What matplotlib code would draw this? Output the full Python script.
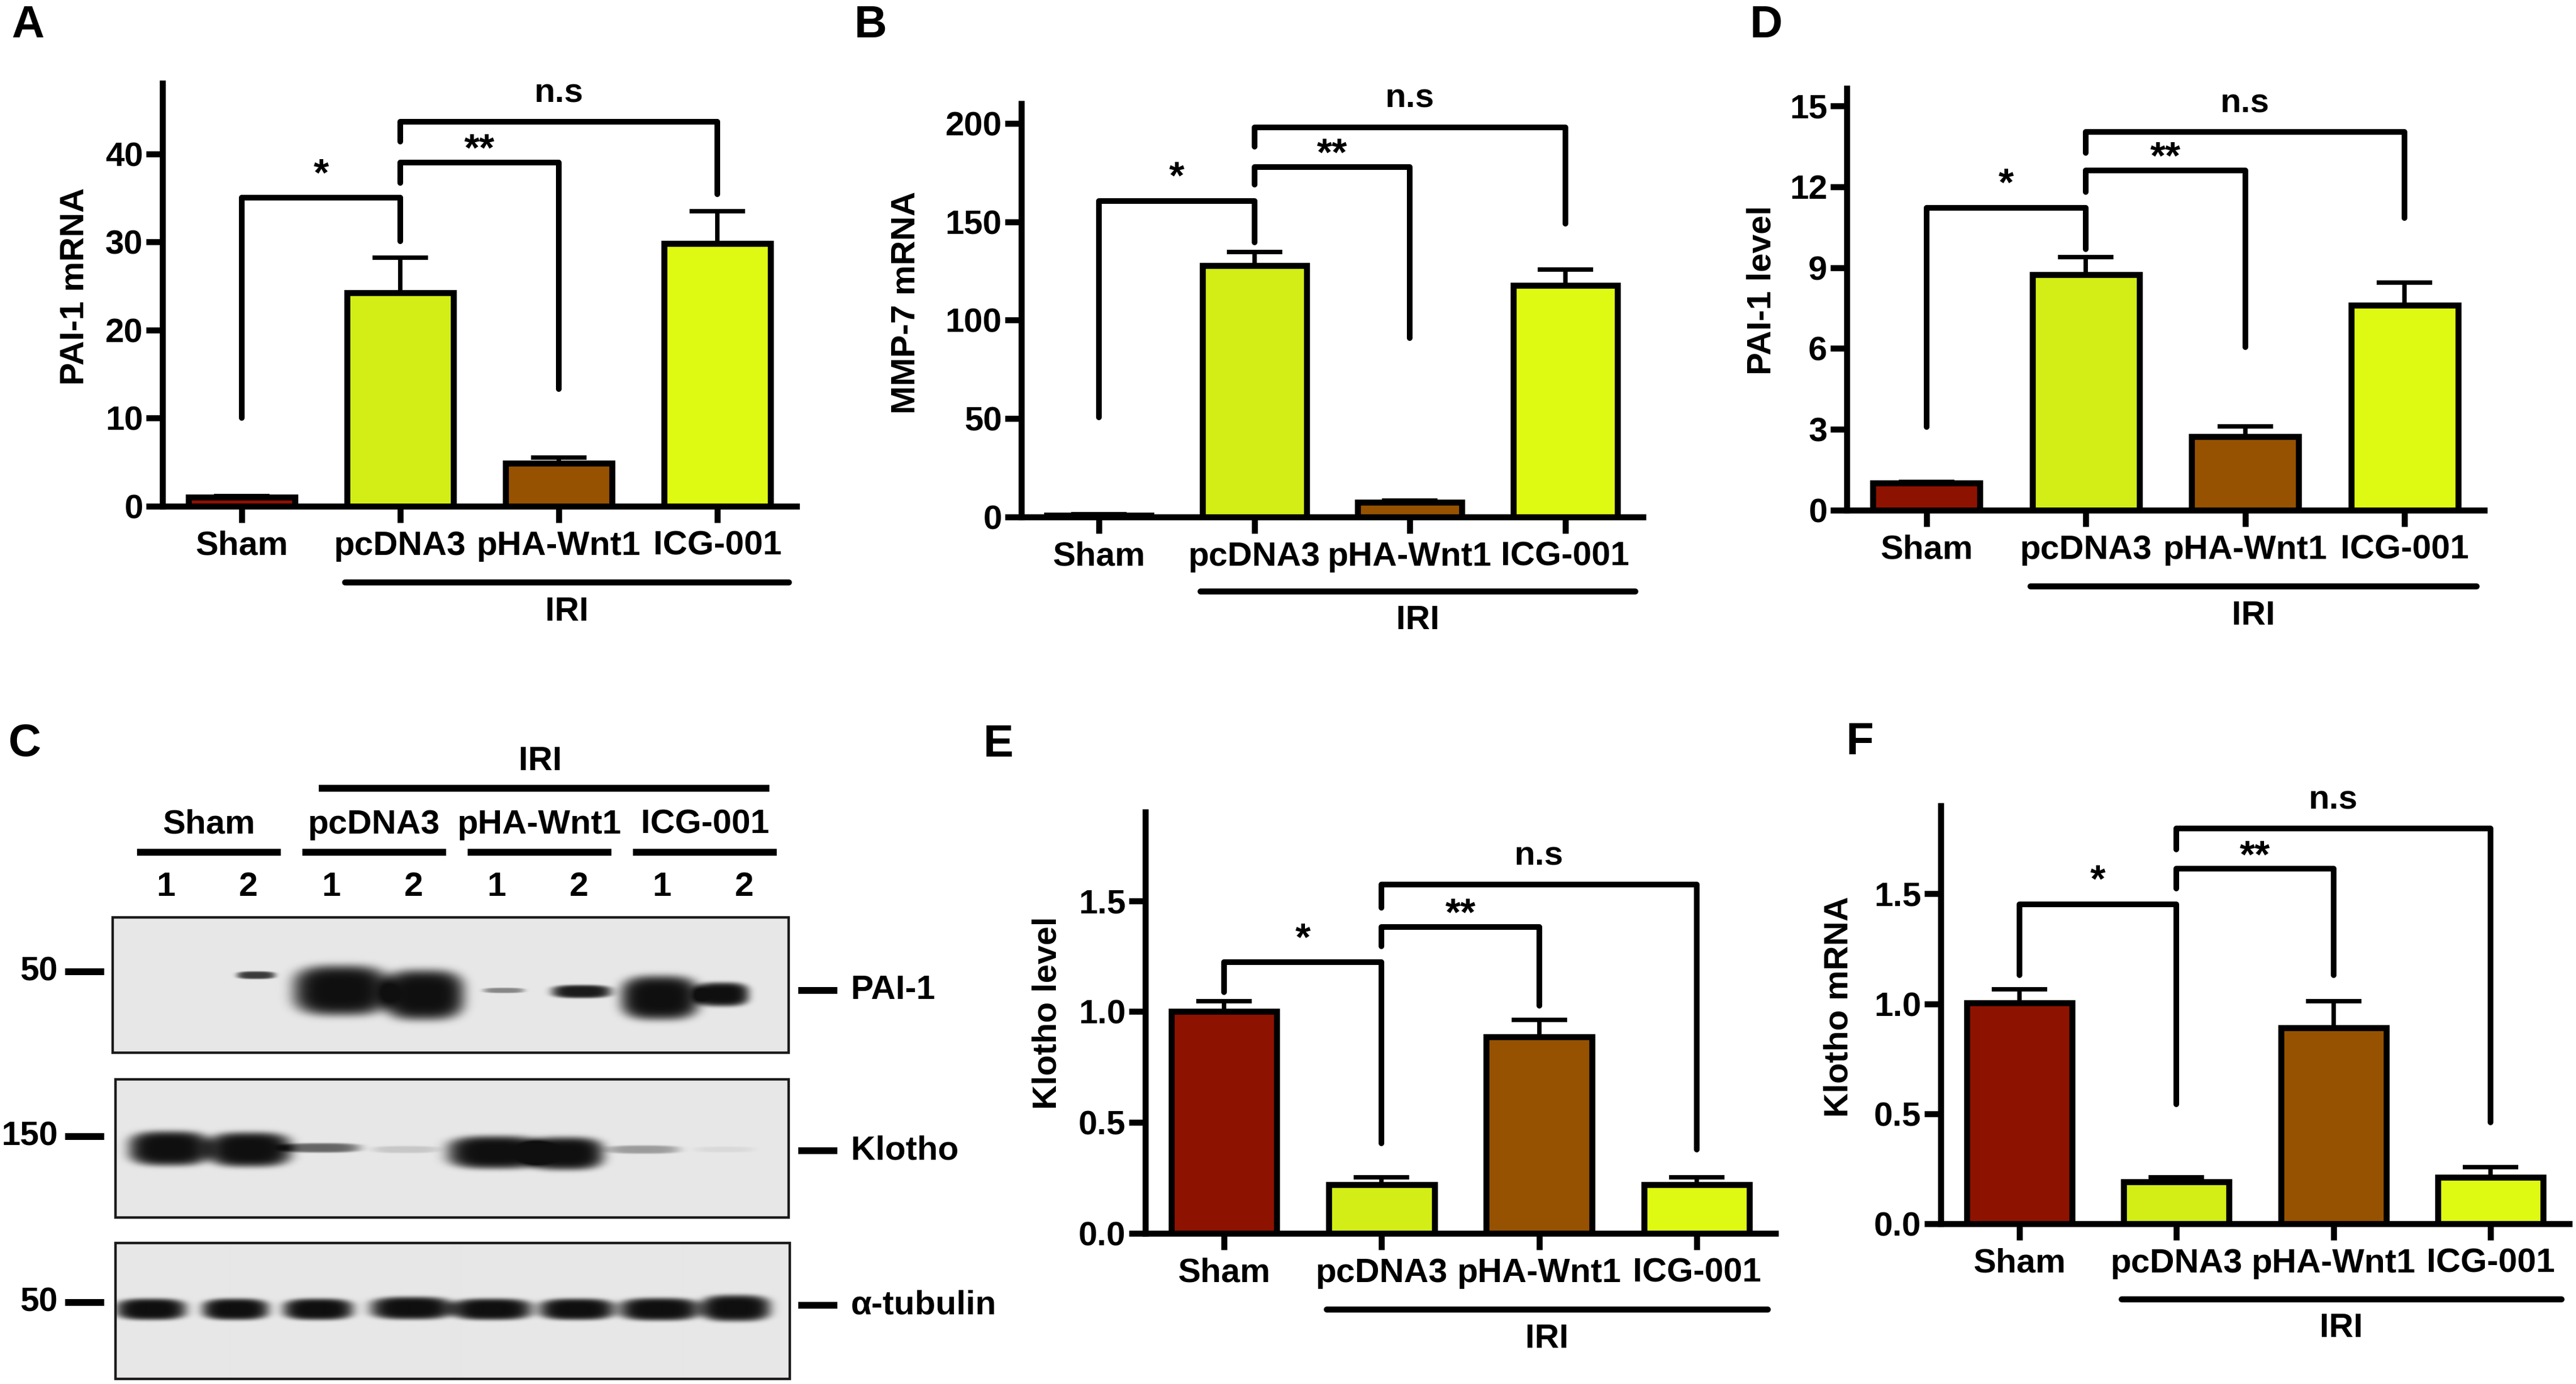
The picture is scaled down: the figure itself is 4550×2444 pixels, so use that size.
import numpy as np
import matplotlib
matplotlib.use("Agg")
import matplotlib.pyplot as plt
from matplotlib.transforms import blended_transform_factory, offset_copy
from matplotlib.ticker import FormatStrFormatter
from matplotlib.patches import Rectangle

plt.rcParams['font.family'] = ['Liberation Sans', 'DejaVu Sans']
plt.rcParams['font.weight'] = 'bold'

# ---------------- data ----------------
groups = ['Sham', 'pcDNA3', 'pHA-Wnt1', 'ICG-001']
bar_colors = ['#8e1200', '#d2ee16', '#965200', '#dffa12']

pai1_mrna = [1.0, 24.2, 4.9, 29.8]
pai1_mrna_err = [0.15, 4.0, 0.65, 3.7]
mmp7_mrna = [1.0, 127.8, 7.4, 117.6]
mmp7_mrna_err = [0.4, 6.9, 0.8, 8.1]
pai1_level = [1.0, 8.73, 2.74, 7.6]
pai1_level_err = [0.05, 0.67, 0.36, 0.85]
klotho_level = [1.0, 0.22, 0.885, 0.22]
klotho_level_err = [0.047, 0.033, 0.078, 0.033]
klotho_mrna = [1.003, 0.191, 0.891, 0.21]
klotho_mrna_err = [0.062, 0.021, 0.122, 0.047]

# brackets: (left bar, right bar, height, left leg end, right leg end, label)
brackets_A = [(0, 1, 35.0, 10.0, 30.1, '*'), (1, 2, 39.0, 36.7, 13.3, '**'), (1, 3, 43.6, 41.4, 35.4, 'n.s')]
brackets_B = [(0, 1, 160.5, 50.7, 139.4, '*'), (1, 2, 177.8, 169.0, 90.8, '**'), (1, 3, 198.0, 188.0, 148.9, 'n.s')]
brackets_D = [(0, 1, 11.22, 3.08, 9.68, '*'), (1, 2, 12.6, 11.8, 6.06, '**'), (1, 3, 14.03, 13.26, 10.84, 'n.s')]
brackets_E = [(0, 1, 1.222, 1.089, 0.405, '*'), (1, 2, 1.381, 1.294, 1.027, '**'), (1, 3, 1.572, 1.469, 0.379, 'n.s')]
brackets_F = [(0, 1, 1.453, 1.129, 0.544, '*'), (1, 2, 1.613, 1.523, 1.129, '**'), (1, 3, 1.797, 1.703, 0.46, 'n.s')]

# western blot (panel C): band centre (lane units), width (lane units), height (px), centre row (px), darkness
blot_groups = ['Sham', 'pcDNA3', 'pHA-Wnt1', 'ICG-001']
lane_numbers = ['1', '2', '1', '2', '1', '2', '1', '2']
pai1_band_x = [1.0, 2.09, 3.12, 4.12, 5.09, 6.03, 6.98, 7.73]
pai1_band_w = [0.3, 0.44, 1.1, 0.93, 0.47, 0.68, 0.9, 0.62]
pai1_band_h = [10, 13, 84, 84, 9, 22, 74, 40]
pai1_band_y = [1749, 1722, 1749, 1757, 1749, 1751, 1762, 1756]
pai1_band_d = [0.0, 0.8, 1.0, 1.0, 0.45, 0.95, 1.0, 1.0]
klotho_band_x = [1.04, 2.01, 2.88, 3.90, 4.99, 5.83, 6.78, 7.76]
klotho_band_w = [0.93, 0.96, 0.88, 0.75, 1.1, 0.89, 0.82, 0.68]
klotho_band_h = [58, 58, 16, 12, 55, 55, 14, 10]
klotho_band_y = [2028, 2030, 2027, 2030, 2035, 2037, 2030, 2030]
klotho_band_d = [1.0, 1.0, 0.6, 0.15, 1.0, 1.0, 0.35, 0.06]
tubulin_band_x = [0.82, 1.84, 2.84, 3.97, 4.94, 5.97, 6.97, 7.89]
tubulin_band_w = [0.8, 0.76, 0.8, 0.94, 0.92, 0.86, 0.92, 0.8]
tubulin_band_h = [36, 36, 36, 38, 36, 36, 38, 44]
tubulin_band_y = [2312, 2312, 2312, 2310, 2312, 2312, 2312, 2310]
tubulin_band_d = [1.0, 1.0, 1.0, 1.0, 1.0, 1.0, 1.0, 1.0]

# ---------------- layout ----------------
W, H, DPI = 4550, 2444, 200
FS = 21.6
LW = 3.8

fig = plt.figure(figsize=(W / DPI, H / DPI), dpi=DPI)
fig.patch.set_facecolor('white')


def fig_rect(l, t, r, b):
    return [l / W, 1 - b / H, (r - l) / W, (b - t) / H]


def bar_panel(rect, means, errs, brackets, ylim, yticks, ylabel, ylab_px, fmt=None):
    l, t, r, b = rect
    ax = fig.add_axes(fig_rect(l, t, r, b))
    x = np.arange(len(groups))
    ax.bar(x, means, width=0.67, color=bar_colors, edgecolor='black', linewidth=LW, zorder=3)
    ax.errorbar(x, means, yerr=[np.zeros(len(means)), errs], fmt='none', ecolor='black',
                elinewidth=2.8, capsize=17.5, capthick=2.8, zorder=2)
    ax.set_xlim(-0.5, 3.5)
    ax.set_ylim(0, ylim)
    ax.set_yticks(yticks)
    if fmt:
        ax.yaxis.set_major_formatter(FormatStrFormatter(fmt))
    ax.set_xticks(x)
    ax.set_xticklabels(groups)
    for s in ['top', 'right']:
        ax.spines[s].set_visible(False)
    for s in ['left', 'bottom']:
        ax.spines[s].set_linewidth(LW)
    ax.tick_params(axis='y', direction='out', length=10.4, width=LW, pad=2, labelsize=FS)
    ax.tick_params(axis='x', direction='out', length=10.4, width=LW, pad=5, labelsize=FS)
    ax.set_ylabel(ylabel, fontsize=FS, fontweight='bold', va='center')
    ax.yaxis.set_label_coords((ylab_px[0] - l) / (r - l), (b - ylab_px[1]) / (b - t))

    offsets = {'*': 8.0, '**': 1.2, 'n.s': 12.6}
    sizes = {'*': 25, '**': 25, 'n.s': FS}
    for i, j, h, yi, yj, lab in brackets:
        ax.plot([i, i, j, j], [yi, h, h, yj], color='black', lw=3.6, clip_on=False,
                solid_joinstyle='round', solid_capstyle='round', zorder=4)
        tr = offset_copy(ax.transData, fig=fig, y=offsets[lab], units='points')
        ax.text((i + j) / 2, h, lab, transform=tr, ha='center', va='baseline',
                fontsize=sizes[lab], fontweight='bold', clip_on=False)

    bt = blended_transform_factory(ax.transData, ax.transAxes)
    ax.plot([0.65, 3.45], [-0.18, -0.18], color='black', lw=LW, transform=bt,
            clip_on=False, solid_capstyle='round')
    ax.text(2.05, -0.25, 'IRI', transform=bt, ha='center', va='center', fontsize=FS,
            fontweight='bold', clip_on=False)
    return ax


bar_panel((287, 147, 1407, 894), pai1_mrna, pai1_mrna_err, brackets_A, 48,
          [0, 10, 20, 30, 40], 'PAI-1 mRNA', (132, 506))
bar_panel((1804, 183, 2902, 913), mmp7_mrna, mmp7_mrna_err, brackets_B, 210,
          [0, 50, 100, 150, 200], 'MMP-7 mRNA', (1600, 534))
bar_panel((3262, 156, 4388, 901), pai1_level, pai1_level_err, brackets_D, 15.65,
          [0, 3, 6, 9, 12, 15], 'PAI-1 level', (3112, 512))
bar_panel((2023, 1434, 3136, 2178), klotho_level, klotho_level_err, brackets_E, 1.9,
          [0.0, 0.5, 1.0, 1.5], 'Klotho level', (1850, 1789), fmt='%.1f')
bar_panel((3428, 1423, 4538, 2161), klotho_mrna, klotho_mrna_err, brackets_F, 1.9,
          [0.0, 0.5, 1.0, 1.5], 'Klotho mRNA', (3248, 1778), fmt='%.1f')

# panel letters
for lab, px, py in [('A', 50, 46), ('B', 1538, 46), ('D', 3120, 46),
                    ('C', 44, 1315), ('E', 1763, 1315), ('F', 3285, 1312)]:
    fig.text(px / W, 1 - py / H, lab, ha='center', va='center', fontsize=28.8, fontweight='bold')

# ---------------- panel C: western blot ----------------
LANE_PX0, LANE_DX = 293, 146


def lane(px):
    return (px - LANE_PX0) / LANE_DX + 1


axc = fig.add_axes(fig_rect(0, 1280, 1600, 2444))
axc.set_xlim(lane(0), lane(1600))
axc.set_ylim(2444, 1280)
axc.axis('off')

axc.text(lane(954), 1345, 'IRI', ha='center', va='center', fontsize=FS, fontweight='bold')
axc.plot([lane(563), lane(1359)], [1392, 1392], color='black', lw=4.4, solid_capstyle='butt')
for k, g in enumerate(blot_groups):
    cx = 1.52 + 2 * k
    axc.text(cx, 1456, g, ha='center', va='center', fontsize=FS, fontweight='bold')
    axc.plot([cx - 0.87, cx + 0.87], [1505, 1505], color='black', lw=4.4, solid_capstyle='butt')
for k, n in enumerate(lane_numbers):
    axc.text(k + 1, 1566, n, ha='center', va='center', fontsize=FS, fontweight='bold')

strips = [
    ((199, 1620, 1393, 1859), pai1_band_x, pai1_band_w, pai1_band_h, pai1_band_y, pai1_band_d,
     '50', 1716, 'PAI-1', 1749),
    ((204, 1906, 1393, 2150), klotho_band_x, klotho_band_w, klotho_band_h, klotho_band_y, klotho_band_d,
     '150', 2007, 'Klotho', 2032),
    ((204, 2195, 1395, 2435), tubulin_band_x, tubulin_band_w, tubulin_band_h, tubulin_band_y, tubulin_band_d,
     '50', 2300, '\u03b1-tubulin', 2305),
]

for (x0, y0, x1, y1), bx, bw, bh, by, bd, mw, mw_y, name, name_y in strips:
    nx, ny = int(x1 - x0), int(y1 - y0)
    gx = np.linspace(lane(x0), lane(x1), nx)
    gy = np.linspace(y0, y1, ny)
    XX, YY = np.meshgrid(gx, gy)
    dark = np.zeros_like(XX)
    for cx, w, h, cy, d in zip(bx, bw, bh, by, bd):
        r = (np.abs((XX - cx) / (w / 2)) ** 3 + np.abs((YY - cy) / (h / 2)) ** 3) ** (1 / 3)
        dark += d * np.exp(-np.log(2) * r ** 6)
    dark = np.clip(dark, 0, 1)
    bg = 0.905
    img = bg - (bg - 0.06) * dark
    axc.imshow(img, cmap='gray', vmin=0, vmax=1, extent=(lane(x0), lane(x1), y1, y0),
               aspect='auto', interpolation='bilinear', zorder=1)
    axc.add_patch(Rectangle((lane(x0), y0), lane(x1) - lane(x0), y1 - y0, fill=False,
                            edgecolor='#1a1a1a', lw=1.6, zorder=2))
    # molecular weight marker
    axc.text(lane(102), mw_y, mw, ha='right', va='center', fontsize=FS, fontweight='bold')
    axc.plot([lane(115), lane(184)], [mw_y, mw_y], color='black', lw=4.3, solid_capstyle='butt')
    # protein label
    axc.plot([lane(1410), lane(1479)], [name_y, name_y], color='black', lw=4.3, solid_capstyle='butt')
    axc.text(lane(1503), name_y, name, ha='left', va='center', fontsize=FS, fontweight='bold')

fig.savefig('out.png', dpi=DPI, facecolor='white')
